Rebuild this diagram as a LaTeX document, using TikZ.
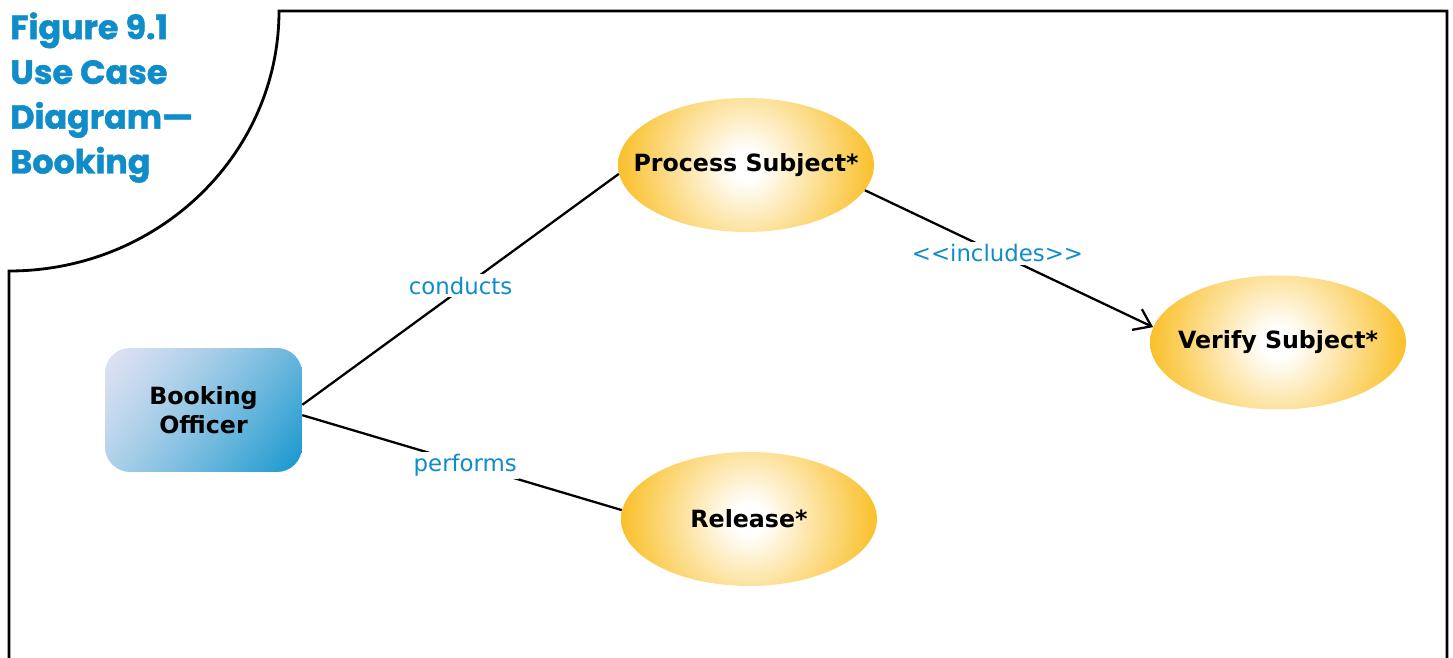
\documentclass[tikz,border=0pt]{standalone}
\usepackage{fontspec}
\usetikzlibrary{shapes.geometric,arrows.meta}
\newfontfamily\dvs{DejaVu Sans}
\newfontfamily\titlef{Poppins}[BoldFeatures={FakeBold=1.3}]
\definecolor{figblue}{RGB}{16,140,200}
\definecolor{ygold}{RGB}{250,192,42}
\pgfdeclareradialshading{ucshade}{\pgfpointorigin}{color(0bp)=(white); color(3bp)=(white); color(25bp)=(ygold); color(50bp)=(ygold)}
% diagonal blend: lavender at top left -> blue at bottom right
\pgfdeclarefunctionalshading{officershade}{\pgfpoint{-50bp}{-50bp}}{\pgfpoint{50bp}{50bp}}{}{
  -0.02 mul exch 0.04 mul add 1.5 add 3 div
  dup 0 lt {pop 0} if
  1.3 exp
  dup -0.80 mul 0.8706 add
  exch
  dup -0.2981 mul 0.8863 add
  exch
  -0.145 mul 0.949 add
}
\begin{document}
\begin{tikzpicture}[x=0.02cm,y=-0.02cm,
  usecase/.style={ellipse, minimum width=5.12cm, minimum height=2.68cm, inner sep=0pt,
    font=\dvs\bfseries\fontsize{13.5}{16}\selectfont,
    path picture={\shade[shading=ucshade] (path picture bounding box.center) circle[radius=2.56cm];}},
  actor/.style={rectangle, rounded corners=0.5cm, minimum width=3.94cm, minimum height=2.48cm,
    inner sep=0pt, shading=officershade, align=center,
    font=\dvs\bfseries\fontsize{13.5}{16.4}\selectfont},
  conn/.style={line width=1.3pt, black},
  lbl/.style={fill=white, inner sep=1.5pt, text=figblue, font=\dvs\fontsize{13}{15}\selectfont},
  frameline/.style={line width=1.6pt, black, line join=miter},
  titletext/.style={anchor=north west, align=left, text=figblue, inner sep=0pt,
    font=\titlef\bfseries\fontsize{19}{25.5}\selectfont}
]
\useasboundingbox (0,0) rectangle (1453,658);
% frame
\draw[frameline] (1447,665) -- (1447,11) -- (279,11)
  .. controls (279,154.6) and (158.1,271) .. (9,271) -- (9,665);
% title
\node[titletext] (title) at (10,12) {Figure 9.1\\Use Case\\Diagram—\\Booking};
% nodes
\node[actor] (off) at (203.5,410) {Booking\\Officer};
\node[usecase] (ps) at (746,165) {\makebox[0pt]{Process Subject*}};
\node[usecase] (vs) at (1278,342.5) {\makebox[0pt]{Verify Subject*}};
\node[usecase] (rel) at (749,519) {\makebox[0pt]{Release*}};
% connectors
\draw[conn] (off.3.5) -- node[lbl,pos=0.5,yshift=2pt] (lc) {conducts} (ps.184);
\draw[conn] (off.-3) -- node[lbl,pos=0.51,yshift=-1pt] (lp) {performs} (rel.176);
\draw[conn, -{Straight Barb[length=9pt,width=13pt]}] (ps.-12) -- node[lbl,pos=0.46] (li) {<{}<includes>{}>} (vs.173);
\end{tikzpicture}
\end{document}
